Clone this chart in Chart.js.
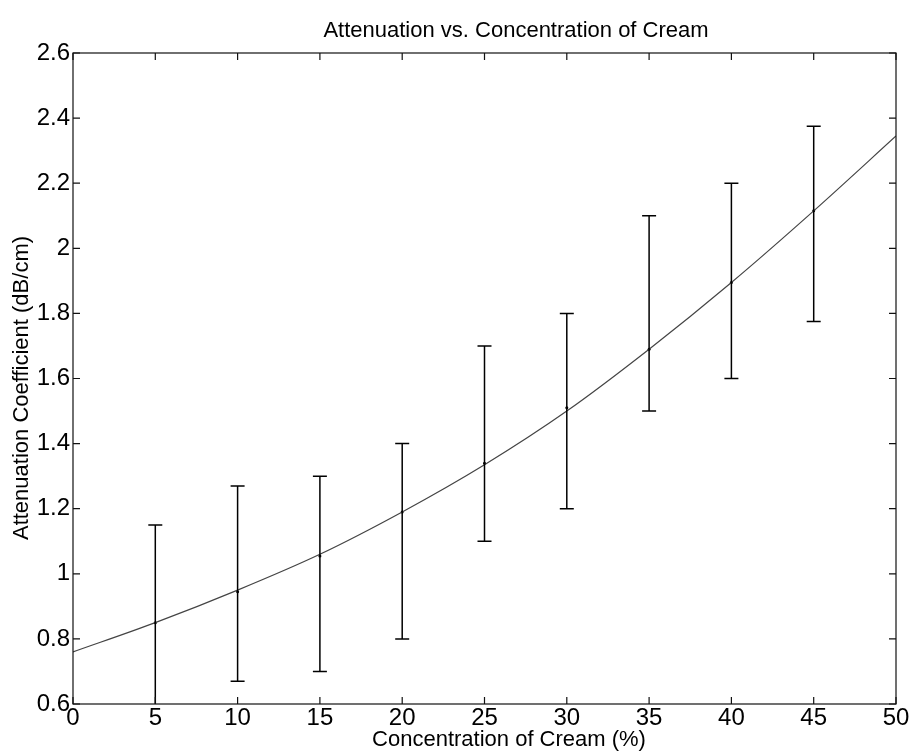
<!DOCTYPE html>
<html>
<head>
<meta charset="utf-8">
<script src="https://cdn.jsdelivr.net/npm/chart.js@4.4.1/dist/chart.umd.min.js"></script>
<style>
  html, body { margin: 0; padding: 0; background: #fff; }
</style>
</head>
<body>
<canvas id="mainChart" width="911" height="753"></canvas>
<script>
// values
const concentration = [5, 10, 15, 20, 25, 30, 35, 40, 45]
const meanAtten = [0.85, 0.945, 1.055, 1.19, 1.34, 1.51, 1.69, 1.895, 2.115]
const upperAtten = [1.15, 1.27, 1.3, 1.4, 1.7, 1.8, 2.1, 2.2, 2.375]
const lowerAtten = [0.55, 0.67, 0.7, 0.8, 1.1, 1.2, 1.5, 1.6, 1.775]

const fitX = [0, 5, 10, 15, 20, 25, 30, 35, 40, 45, 50]
const fitY = [0.76, 0.85, 0.95, 1.06, 1.19, 1.335, 1.5, 1.69, 1.895, 2.115, 2.345]

const xTicks = [0, 5, 10, 15, 20, 25, 30, 35, 40, 45, 50]
const yTicks = [0.6, 0.8, 1, 1.2, 1.4, 1.6, 1.8, 2, 2.2, 2.4, 2.6]

const FONT = `"Liberation Sans", Arial, sans-serif`

const chart = document.getElementById(`mainChart`)

new Chart(chart, {
  type: "line",
  data: {
    datasets: [
      {
        label: `Fit`,
        data: fitX.map((x, i) => ({ x: x, y: fitY[i] })),
        borderColor: "#444",
        borderWidth: 1.2,
        pointRadius: 0,
        cubicInterpolationMode: "monotone",
      },
      {
        label: `Mean`,
        data: concentration.map((x, i) => ({ x: x, y: meanAtten[i] })),
        showLine: false,
        pointRadius: 1.5,
        pointBackgroundColor: "#000",
        pointBorderWidth: 0,
      },
    ],
  },
  options: {
    responsive: false,
    animation: false,
    layout: { padding: { left: 0, top: 53, right: 15, bottom: 0 } },
    scales: {
      x: {
        type: "linear",
        min: 0,
        max: 50,
        afterBuildTicks: (s) => { s.ticks = xTicks.map((v) => ({ value: v })) },
        afterFit: (s) => { s.height = 49 },
        grid: { display: false, drawTicks: false },
        border: { display: false },
        ticks: {
          padding: 0,
          color: "#000",
          maxRotation: 0,
          font: { family: FONT, size: 24 },
        },
      },
      y: {
        type: "linear",
        min: 0.6,
        max: 2.6,
        afterBuildTicks: (s) => { s.ticks = yTicks.map((v) => ({ value: v })) },
        afterFit: (s) => { s.width = 73 },
        grid: { display: false, drawTicks: false },
        border: { display: false },
        ticks: {
          padding: 3,
          color: "#000",
          font: { family: FONT, size: 24 },
          callback: (v) => String(+v.toFixed(1)),
        },
      },
    },
    plugins: {
      legend: { display: false },
      tooltip: { enabled: false },
    },
  },
  plugins: [
    {
      id: "errorBars",
      afterDatasetsDraw: function (chart) {
        const ctx = chart.ctx
        const xs = chart.scales.x
        const ys = chart.scales.y
        const a = chart.chartArea
        ctx.save()
        ctx.beginPath()
        ctx.rect(a.left, a.top, a.right - a.left, a.bottom - a.top)
        ctx.clip()
        ctx.strokeStyle = "#000"
        ctx.lineWidth = 1.5
        concentration.forEach((c, i) => {
          const px = xs.getPixelForValue(c)
          const top = ys.getPixelForValue(upperAtten[i])
          const bot = ys.getPixelForValue(lowerAtten[i])
          ctx.beginPath()
          ctx.moveTo(px, top)
          ctx.lineTo(px, bot)
          ctx.moveTo(px - 7, top)
          ctx.lineTo(px + 7, top)
          ctx.moveTo(px - 7, bot)
          ctx.lineTo(px + 7, bot)
          ctx.stroke()
        })
        ctx.restore()
      },
    },
    {
      id: "boxAndText",
      afterDraw: function (chart) {
        const ctx = chart.ctx
        const a = chart.chartArea
        const xs = chart.scales.x
        const ys = chart.scales.y
        ctx.save()
        ctx.strokeStyle = "#111"
        ctx.lineWidth = 1.2
        ctx.strokeRect(a.left, a.top, a.right - a.left, a.bottom - a.top)
        // inward ticks on all four sides
        ctx.beginPath()
        xTicks.forEach((v) => {
          const px = xs.getPixelForValue(v)
          ctx.moveTo(px, a.bottom)
          ctx.lineTo(px, a.bottom - 7)
          ctx.moveTo(px, a.top)
          ctx.lineTo(px, a.top + 7)
        })
        yTicks.forEach((v) => {
          const py = ys.getPixelForValue(v)
          ctx.moveTo(a.left, py)
          ctx.lineTo(a.left + 7, py)
          ctx.moveTo(a.right, py)
          ctx.lineTo(a.right - 7, py)
        })
        ctx.stroke()

        ctx.fillStyle = "#000"
        ctx.textAlign = "center"
        ctx.textBaseline = "middle"
        ctx.font = `22px ${FONT}`
        ctx.fillText(`Attenuation vs. Concentration of Cream`, 516, 31)
        ctx.fillText(`Concentration of Cream (%)`, 509, 740)
        ctx.translate(22, 388)
        ctx.rotate(-Math.PI / 2)
        ctx.fillText(`Attenuation Coefficient (dB/cm)`, 0, 0)
        ctx.restore()
      },
    },
  ],
})
</script>
</body>
</html>
